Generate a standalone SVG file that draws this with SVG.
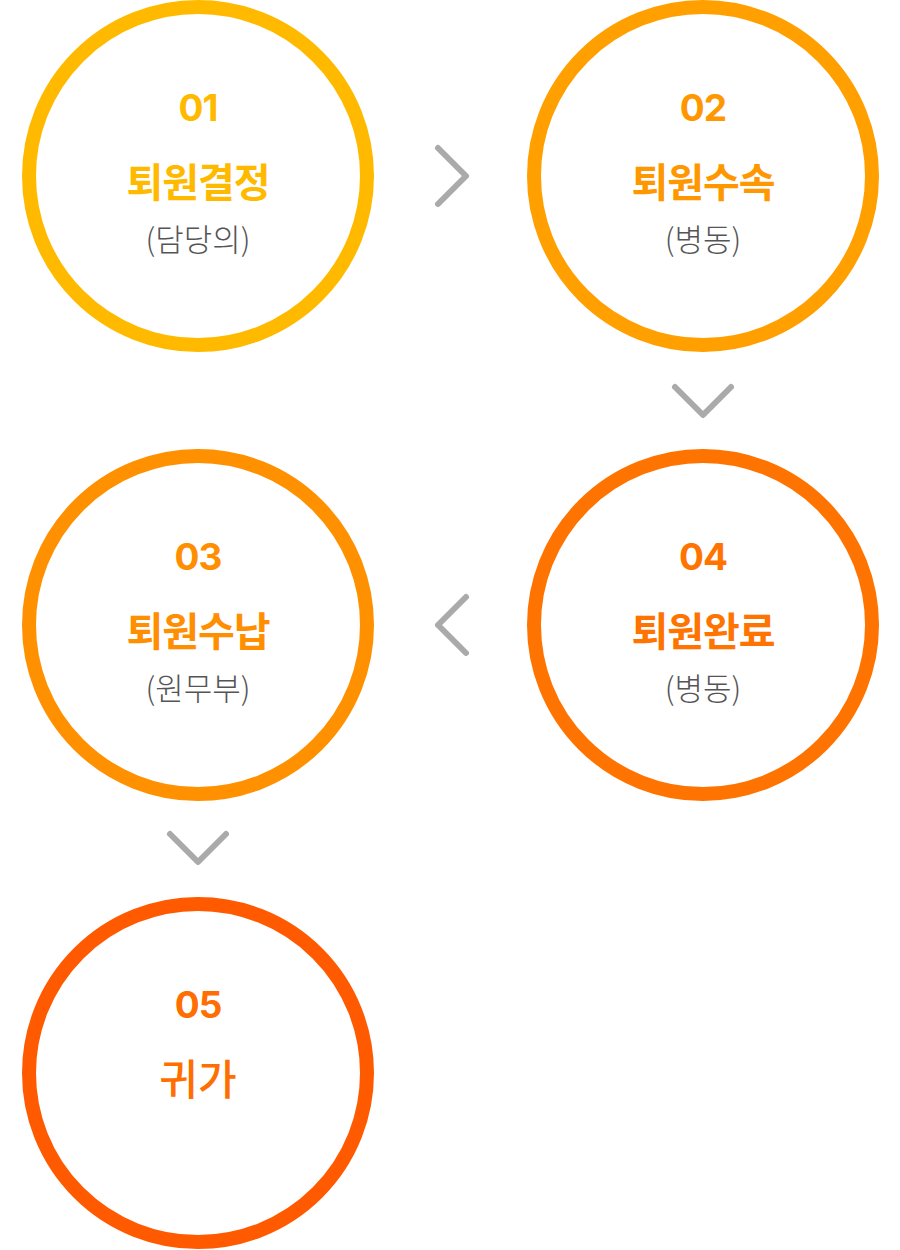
<svg xmlns="http://www.w3.org/2000/svg" width="900" height="1250" viewBox="0 0 900 1250">
<style>
.ring{fill:#fff;stroke-width:14}
.num{font-family:Inter,"Open Sans","Noto Sans",sans-serif;font-weight:700;font-size:37px;text-anchor:middle;letter-spacing:-1px}
.title{font-family:"Noto Sans CJK KR","Noto Sans",sans-serif;font-weight:700;font-size:40px;text-anchor:middle;letter-spacing:-1px}
.sub{font-family:"Noto Sans CJK KR","Noto Sans",sans-serif;font-weight:300;font-size:31px;text-anchor:middle;fill:#555}
.chev{fill:none;stroke:#aaaaaa;stroke-width:6;stroke-linecap:round;stroke-linejoin:round}
</style>
<rect width="900" height="1250" fill="#fff"/>
<g id="connectors">
<polyline class="chev" points="438,148 466,176 438,204"/>
<polyline class="chev" points="675,387 703,415 731,387"/>
<polyline class="chev" points="466,597 438,625 466,653"/>
<polyline class="chev" points="170,834 198,862 226,834"/>
</g>
<g id="node1">
<circle class="ring" cx="198" cy="176" r="169" stroke="#FFBA00"/>
<text class="num" x="198" y="121" fill="#FFBA00">01</text>
<text class="title" x="198" y="197" fill="#FFBA00">퇴원결정</text>
<text class="sub" x="198" y="251">(담당의)</text>
</g>
<g id="node2">
<circle class="ring" cx="703" cy="176" r="169" stroke="#FFA000"/>
<text class="num" x="703" y="121" fill="#FF9800">02</text>
<text class="title" x="703" y="197" fill="#FF9800">퇴원수속</text>
<text class="sub" x="703" y="251">(병동)</text>
</g>
<g id="node3">
<circle class="ring" cx="198" cy="625" r="169" stroke="#FF9100"/>
<text class="num" x="198" y="570" fill="#FF8E00">03</text>
<text class="title" x="198" y="646" fill="#FF8E00">퇴원수납</text>
<text class="sub" x="198" y="700">(원무부)</text>
</g>
<g id="node4">
<circle class="ring" cx="703" cy="625" r="169" stroke="#FF7400"/>
<text class="num" x="703" y="570" fill="#FF7400">04</text>
<text class="title" x="703" y="646" fill="#FF7400">퇴원완료</text>
<text class="sub" x="703" y="700">(병동)</text>
</g>
<g id="node5">
<circle class="ring" cx="198" cy="1073" r="169" stroke="#FF5A00"/>
<text class="num" x="198" y="1018" fill="#FF6E00">05</text>
<text class="title" x="198" y="1095" fill="#FF6E00" style="font-weight:500;letter-spacing:0;font-size:42px">귀가</text>
</g>
</svg>
